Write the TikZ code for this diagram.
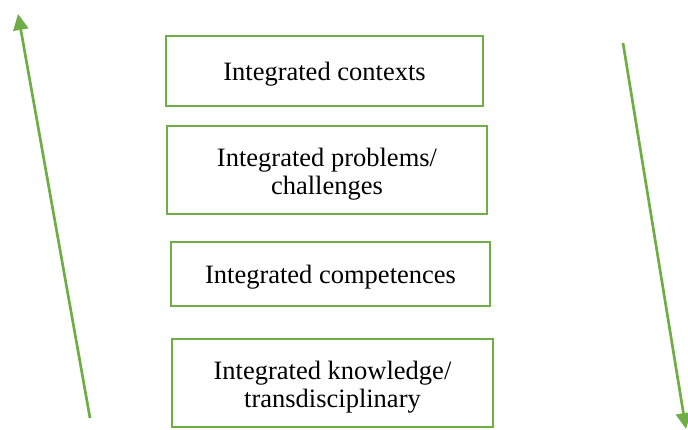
\documentclass[tikz,border=0pt]{standalone}
\usepackage{fontspec}
\setmainfont{Liberation Serif}
\usetikzlibrary{arrows.meta}
\definecolor{ogreen}{HTML}{70AD47}
\begin{document}
\begin{tikzpicture}[x=1pt,y=1pt,
  box/.style={draw=ogreen, line width=2pt, fill=white, inner sep=0pt},
  txt/.style={align=center, inner sep=0pt, font=\fontsize{26.5}{28.5}\selectfont},
  arr/.style={draw=ogreen, line width=2.7pt, -{Triangle[length=16pt,width=15pt]}}]
\useasboundingbox (0,0) rectangle (688,429);
\node[box, minimum width=317pt, minimum height=70pt] (b1) at (324.5,358) {};
\node[box, minimum width=320pt, minimum height=88pt] (b2) at (327,259) {};
\node[box, minimum width=319pt, minimum height=64pt] (b3) at (330.5,155) {};
\node[box, minimum width=321pt, minimum height=88pt] (b4) at (332.5,46) {};
\node[txt] (t1) at ([yshift=-3pt]b1.center) {Integrated contexts};
\node[txt] (t2) at ([yshift=-4pt]b2.center) {Integrated problems/\\challenges};
\node[txt] (t3) at ([yshift=-3pt]b3.center) {Integrated competences};
\node[txt] (t4) at ([yshift=-4pt]b4.center) {Integrated knowledge/\\transdisciplinary};
\coordinate (l1) at (90,11);
\coordinate (l2) at (18,415);
\coordinate (r1) at (623,386);
\coordinate (r2) at (686,0);
\draw[arr] (l1) -- (l2);
\draw[arr] (r1) -- (r2);
\end{tikzpicture}
\end{document}
